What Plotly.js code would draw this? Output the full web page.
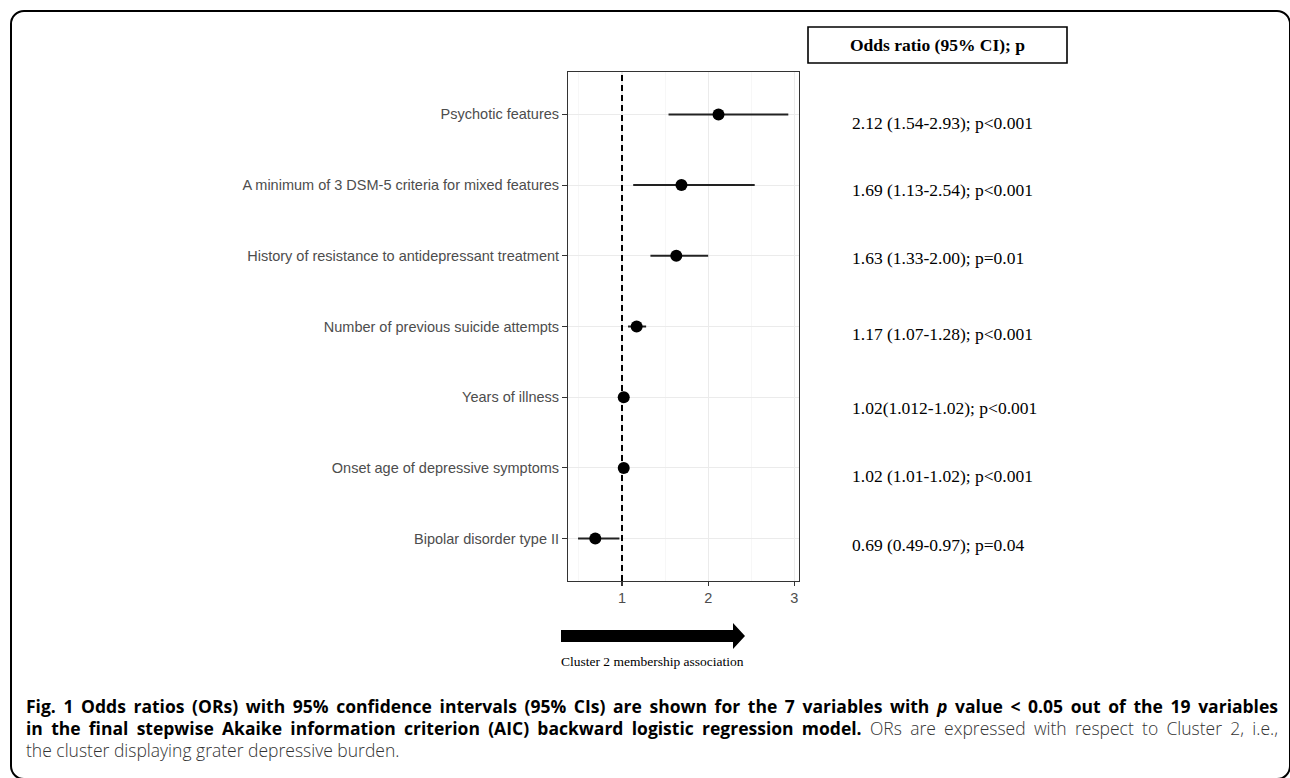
<!DOCTYPE html>
<html>
<head>
<meta charset="utf-8">
<script src="https://cdn.plot.ly/plotly-3.0.1.min.js"></script>
<style>
  body { margin: 0; background: #fff; }
  #wrap { position: relative; width: 1290px; height: 778px; overflow: hidden; background: #fff; }
  #chart { position: absolute; left: 0; top: 0; width: 1290px; height: 778px; }
  #frame { position: absolute; left: 10px; top: 10px; width: 1281px; height: 770px; border: 2.5px solid #000;
           border-radius: 14px; box-sizing: border-box; pointer-events: none; }
  #caption { position: absolute; left: 26px; top: 695px; width: 1252px; font-family: "Open Sans", "Noto Sans", sans-serif;
             font-size: 17.5px; line-height: 22px; color: #000; }
  #caption .j { text-align: justify; text-align-last: justify; }
  #caption .b { font-weight: 700; }
  #caption .r { font-weight: 300; color: #333; }
</style>
</head>
<body>
<div id="wrap">
  <div id="chart"></div>
  <div id="frame"></div>
  <div id="caption">
    <div class="j"><span class="b">Fig. 1 Odds ratios (ORs) with 95% confidence intervals (95% CIs) are shown for the 7 variables with <i>p</i> value &lt; 0.05 out of the 19 variables</span></div>
    <div class="j"><span class="b">in the final stepwise Akaike information criterion (AIC) backward logistic regression model.</span> <span class="r">ORs are expressed with respect to Cluster 2, i.e.,</span></div>
    <div><span class="r">the cluster displaying grater depressive burden.</span></div>
  </div>
</div>
<script>
// ---- data ----
var variables = [
  "Psychotic features",
  "A minimum of 3 DSM-5 criteria for mixed features",
  "History of resistance to antidepressant treatment",
  "Number of previous suicide attempts",
  "Years of illness",
  "Onset age of depressive symptoms",
  "Bipolar disorder type II"
];
var oddsRatio = [2.12, 1.69, 1.63, 1.17, 1.02, 1.02, 0.69];
var ciLower   = [1.54, 1.13, 1.33, 1.07, 1.012, 1.01, 0.49];
var ciUpper   = [2.93, 2.54, 2.00, 1.28, 1.02, 1.02, 0.97];
var statLabels = [
  "2.12 (1.54-2.93); p<0.001",
  "1.69 (1.13-2.54); p<0.001",
  "1.63 (1.33-2.00); p=0.01",
  "1.17 (1.07-1.28); p<0.001",
  "1.02(1.012-1.02); p<0.001",
  "1.02 (1.01-1.02); p<0.001",
  "0.69 (0.49-0.97); p=0.04"
];
var xTicks = [1, 2, 3];
var xMinorTicks = [0.5, 1.5, 2.5];
var refLine = 1;
var headerText = "Odds ratio (95% CI); p";
var arrowText = "Cluster 2 membership association";

// ---- layout helpers (pixel -> paper) ----
var PL = 568, PR = 799, PT = 72, PB = 581;
function px(x) { return (x - PL) / (PR - PL); }
function py(y) { return (PB - y) / (PB - PT); }
var statYShift = [-9, -5, -2, -7, -11, -8, -6];

var sans = "'Liberation Sans', Arial, Helvetica, sans-serif";
var serif = "'Liberation Serif', 'Times New Roman', serif";

var trace = {
  type: 'scatter',
  mode: 'markers',
  x: oddsRatio,
  y: variables,
  error_x: {
    type: 'data', symmetric: false,
    array: ciUpper.map(function (u, i) { return u - oddsRatio[i]; }),
    arrayminus: ciLower.map(function (l, i) { return oddsRatio[i] - l; }),
    width: 0, thickness: 2, color: '#222222'
  },
  marker: { size: 12, color: '#000000' },
  hoverinfo: 'x+y'
};

var annotations = statLabels.map(function (t, i) {
  return {
    text: t, xref: 'paper', x: px(850), xanchor: 'left',
    yref: 'y', y: variables[i], yanchor: 'middle', yshift: statYShift[i],
    showarrow: false, font: { family: serif, size: 17.5, color: '#000' }
  };
});
annotations.push({
  text: '<b>' + headerText + '</b>', xref: 'paper', yref: 'paper',
  x: px(937.5), y: py(45), xanchor: 'center', yanchor: 'middle',
  showarrow: false, font: { family: serif, size: 17.5, color: '#000' }
});
annotations.push({
  text: arrowText, xref: 'paper', yref: 'paper',
  x: px(652), y: py(661), xanchor: 'center', yanchor: 'middle',
  showarrow: false, font: { family: serif, size: 13.5, color: '#000' }
});

var arrowPath = 'M' + px(561) + ',' + py(630) +
  ' L' + px(733) + ',' + py(630) +
  ' L' + px(733) + ',' + py(623) +
  ' L' + px(745) + ',' + py(636) +
  ' L' + px(733) + ',' + py(649) +
  ' L' + px(733) + ',' + py(642) +
  ' L' + px(561) + ',' + py(642) + ' Z';

var shapes = [
  { type: 'line', xref: 'x', yref: 'paper', x0: refLine, x1: refLine, y0: 0, y1: 1,
    line: { color: '#000', width: 2, dash: '6px,4px' }, layer: 'above' },
  { type: 'rect', xref: 'paper', yref: 'paper', x0: px(808), x1: px(1067), y0: py(63), y1: py(27),
    line: { color: '#000', width: 1.6 }, fillcolor: 'rgba(0,0,0,0)' },
  { type: 'path', xref: 'paper', yref: 'paper', path: arrowPath,
    fillcolor: '#000', line: { color: '#000', width: 0 } }
];

var layout = {
  width: 1290, height: 778,
  margin: { l: PL, r: 1290 - PR, t: PT, b: 778 - PB, pad: 0 },
  paper_bgcolor: 'rgba(0,0,0,0)',
  plot_bgcolor: '#ffffff',
  showlegend: false,
  xaxis: {
    range: [0.3734, 3.054], tickvals: xTicks, ticktext: xTicks.map(String),
    ticks: 'outside', ticklen: 4, tickwidth: 1.1, tickcolor: '#333333',
    showgrid: true, gridcolor: '#ebebeb', gridwidth: 1.2,
    minor: { tickvals: xMinorTicks, showgrid: true, gridcolor: '#f2f2f2', gridwidth: 0.6, ticks: '' },
    zeroline: false, showline: true, mirror: true, linecolor: '#333333', linewidth: 1,
    tickfont: { family: sans, size: 14.5, color: '#4d4d4d' }, fixedrange: true
  },
  yaxis: {
    type: 'category', categoryorder: 'array', categoryarray: variables.slice().reverse(),
    range: [-0.6, 6.6],
    ticks: 'outside', ticklen: 5, tickwidth: 1.1, tickcolor: '#333333',
    showgrid: true, gridcolor: '#ebebeb', gridwidth: 1.2,
    zeroline: false, showline: true, mirror: true, linecolor: '#333333', linewidth: 1,
    tickfont: { family: sans, size: 14.5, color: '#4d4d4d' }, automargin: false, fixedrange: true
  },
  annotations: annotations,
  shapes: shapes
};

Plotly.newPlot('chart', [trace], layout, { displayModeBar: false, staticPlot: true });
</script>
</body>
</html>
